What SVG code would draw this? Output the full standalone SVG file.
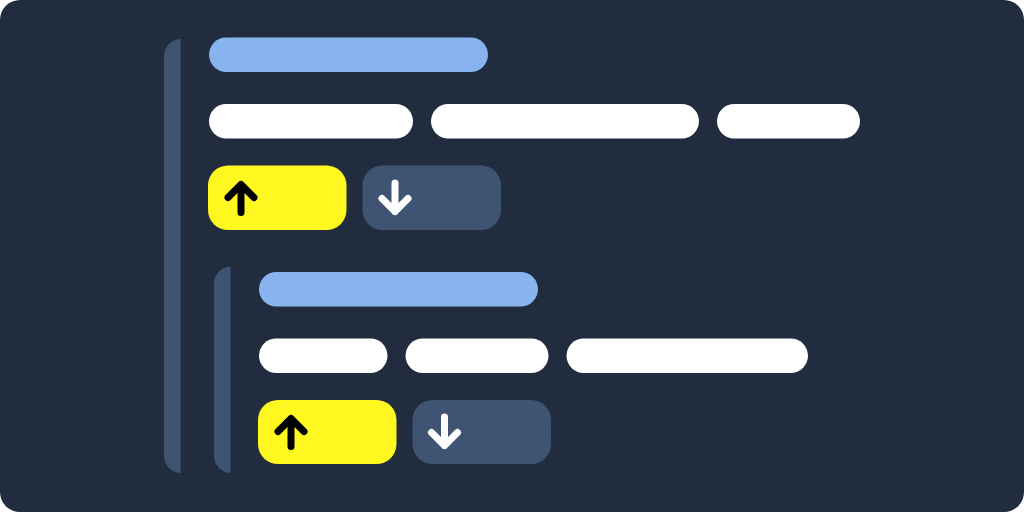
<svg xmlns="http://www.w3.org/2000/svg" width="1024" height="512" viewBox="0 0 1024 512">
  <style>
    .bar{fill:#3F5472}
    .head{fill:#87B4EE}
    .pill{fill:#FFFFFF}
    .up{fill:#FFF720}
    .down{fill:#3F5472}
    .arrow{fill:none;stroke-width:7;stroke-linecap:round;stroke-linejoin:round}
  </style>
  <rect width="1024" height="512" rx="20" fill="#212D3F"/>
  <path id="rail-outer" class="bar" d="M180.500 39C171.500 39.500 164 47 164 56V456C164 465 171.500 472.500 180.500 473Z"/>
  <path id="rail-inner" class="bar" d="M230.500 266.500C221.500 267 214 274.500 214 283.500V456C214 465 221.500 472.500 230.500 473Z"/>
  <g id="block-1">
    <rect class="head" x="209" y="37.500" width="279" height="34.500" rx="17.250"/>
    <rect class="pill" x="209" y="104" width="204" height="34.500" rx="17.250"/>
    <rect class="pill" x="431" y="104" width="268" height="34.500" rx="17.250"/>
    <rect class="pill" x="717" y="104" width="143" height="34.500" rx="17.250"/>
    <g id="up-1">
      <rect class="up" x="208" y="165.500" width="138.500" height="64.500" rx="20"/>
      <path class="arrow" stroke="#000" d="M241 212.500V184.500M228 197.500L241 184.500L254 197.500"/>
    </g>
    <g id="down-1">
      <rect class="down" x="362.500" y="165.500" width="138.500" height="64.500" rx="20"/>
      <path class="arrow" stroke="#fff" d="M395 183V211.500M382 198.500L395 211.500L408 198.500"/>
    </g>
  </g>
  <g id="block-2">
    <rect class="head" x="259" y="272" width="279" height="34.500" rx="17.250"/>
    <rect class="pill" x="259" y="338.500" width="128.500" height="34.500" rx="17.250"/>
    <rect class="pill" x="405.500" y="338.500" width="143" height="34.500" rx="17.250"/>
    <rect class="pill" x="566.500" y="338.500" width="241.500" height="34.500" rx="17.250"/>
    <g id="up-2">
      <rect class="up" x="258" y="400" width="138.500" height="64" rx="20"/>
      <path class="arrow" stroke="#000" d="M291 446.500V418.500M278 431.500L291 418.500L304 431.500"/>
    </g>
    <g id="down-2">
      <rect class="down" x="412.500" y="400" width="138.500" height="64" rx="20"/>
      <path class="arrow" stroke="#fff" d="M444.500 417V445.500M431.500 432.500L444.500 445.500L457.500 432.500"/>
    </g>
  </g>
</svg>
